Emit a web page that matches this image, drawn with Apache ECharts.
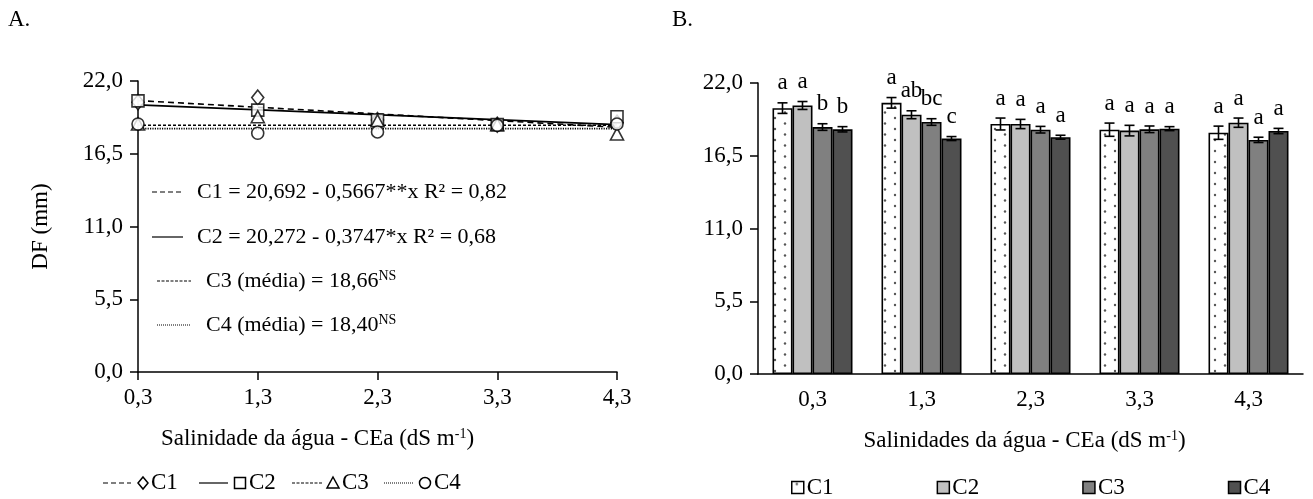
<!DOCTYPE html>
<html>
<head>
<meta charset="utf-8">
<script src="https://cdn.jsdelivr.net/npm/echarts@6/dist/echarts.min.js"></script>
<style>
html,body{margin:0;padding:0;background:#fff;}
#chart{width:1313px;height:499px;}
</style>
</head>
<body>
<div id="chart"></div>
<script>
// ---------- DATA ----------
const categories = ['0,3', '1,3', '2,3', '3,3', '4,3'];
const yTickMin = 0, yTickMax = 22, yTickStep = 5.5;

// Panel A: observed means (markers)
const c1A = [20.4, 20.75, 19.05, 18.7, 18.85];
const c2A = [20.5, 19.8, 19.05, 18.7, 19.3];
const c3A = [18.75, 19.3, 19.0, 18.7, 18.0];
const c4A = [18.75, 18.05, 18.15, 18.65, 18.75];
// Panel A: fitted lines (values at first and last salinity level)
const c1Fit = [20.52, 18.5];
const c2Fit = [20.2, 18.7];
const c3Mean = 18.66;
const c4Mean = 18.40;

// Panel B: bar means, standard errors and letters
const c1B = [20.1, 20.5, 18.9, 18.47, 18.24];
const c2B = [20.3, 19.6, 18.9, 18.4, 19.0];
const c3B = [18.67, 19.05, 18.47, 18.5, 17.7];
const c4B = [18.5, 17.8, 17.9, 18.55, 18.37];
const c1E = [0.4, 0.4, 0.45, 0.5, 0.5];
const c2E = [0.3, 0.3, 0.35, 0.4, 0.35];
const c3E = [0.25, 0.25, 0.25, 0.25, 0.2];
const c4E = [0.2, 0.15, 0.15, 0.15, 0.2];
const c1L = ['a', 'a', 'a', 'a', 'a'];
const c2L = ['a', 'ab', 'a', 'a', 'a'];
const c3L = ['b', 'bc', 'a', 'a', 'a'];
const c4L = ['b', 'c', 'a', 'a', 'a'];

// ---------- STYLE ----------
const FONT = '"Liberation Serif", "Times New Roman", serif';
const FS = 23;
const FSEQ = 22;

const pc = document.createElement('canvas');
pc.width = 20; pc.height = 11;
const pctx = pc.getContext('2d');
pctx.fillStyle = '#ffffff'; pctx.fillRect(0, 0, 20, 11);
pctx.fillStyle = '#555555';
pctx.beginPath(); pctx.arc(5, 2.5, 1.2, 0, Math.PI * 2); pctx.fill();
pctx.beginPath(); pctx.arc(15, 8, 1.2, 0, Math.PI * 2); pctx.fill();
const dotPattern = { image: pc, repeat: 'repeat' };

const barColors = [dotPattern, '#c0c0c0', '#808080', '#505050'];
const barNames = ['C1', 'C2', 'C3', 'C4'];
const barVals = [c1B, c2B, c3B, c4B];
const barErrs = [c1E, c2E, c3E, c4E];
const barLets = [c1L, c2L, c3L, c4L];
const BAR_W = 20;

const fmt = v => v.toFixed(1).replace('.', ',');
const supRich = { sup: { fontSize: 14, fontFamily: FONT, color: '#000', verticalAlign: 'top', padding: [0, 0, 10, 0] } };

function yAxisCfg(gridIndex, withName) {
  return {
    type: 'value', gridIndex: gridIndex, min: yTickMin, max: yTickMax, interval: yTickStep,
    name: withName ? 'DF (mm)' : '', nameLocation: 'middle', nameGap: 86, nameRotate: 90,
    nameTextStyle: { fontFamily: FONT, fontSize: FS, color: '#000' },
    axisLine: { show: true, lineStyle: { color: '#000', width: 1.5 } },
    axisTick: { show: true, inside: false, length: 8, lineStyle: { color: '#000', width: 1.5 } },
    axisLabel: { fontFamily: FONT, fontSize: FS, color: '#000', margin: 15, formatter: fmt },
    splitLine: { show: false }
  };
}

const series = [];
// Panel A fitted lines
const fitStyles = [
  { data: c1Fit, type: [6, 4] },
  { data: c2Fit, type: 'solid' },
  { data: [c3Mean, c3Mean], type: [3, 2] },
  { data: [c4Mean, c4Mean], type: [1.2, 1.2] }
];
fitStyles.forEach((f, i) => {
  series.push({
    name: 'fit' + (i + 1), type: 'line', xAxisIndex: 0, yAxisIndex: 0,
    data: [[0, f.data[0]], [categories.length - 1, f.data[1]]],
    showSymbol: false, symbol: 'none', silent: true, z: 2,
    lineStyle: { color: '#000', width: i === 1 ? 1.8 : 1.6, type: f.type }
  });
});
// Panel A markers
const markerDefs = [
  { data: c1A, symbol: 'diamond', size: [12, 15] },
  { data: c2A, symbol: 'rect', size: 12 },
  { data: c3A, symbol: 'triangle', size: [13, 12] },
  { data: c4A, symbol: 'circle', size: 12 }
];
markerDefs.forEach((m, i) => {
  series.push({
    name: 'obs' + (i + 1), type: 'scatter', xAxisIndex: 0, yAxisIndex: 0,
    data: m.data, symbol: m.symbol, symbolSize: m.size, z: 3,
    itemStyle: { color: '#fff', borderColor: '#000', borderWidth: 1.6 }
  });
});
// Panel B bars
barNames.forEach((n, i) => {
  series.push({
    name: n, type: 'bar', xAxisIndex: 1, yAxisIndex: 1,
    data: barVals[i], barWidth: BAR_W, barGap: '0%',
    itemStyle: { color: barColors[i], borderColor: '#000', borderWidth: 1.6 }
  });
});
// Panel B error bars + letters
barNames.forEach((n, i) => {
  series.push({
    name: n + ' err', type: 'custom', xAxisIndex: 1, yAxisIndex: 1, z: 5, silent: true,
    data: barVals[i].map((v, k) => [k, v, barErrs[i][k]]),
    renderItem: function (params, api) {
      const x = api.value(0), v = api.value(1), e = api.value(2);
      const off = (i - 1.5) * BAR_W;
      const top = api.coord([x, v + e]);
      const bot = api.coord([x, v - e]);
      const cx = top[0] + off;
      const cap = 5;
      const ls = { stroke: '#000', lineWidth: 1.6 };
      return {
        type: 'group',
        children: [
          { type: 'line', shape: { x1: cx, y1: top[1], x2: cx, y2: bot[1] }, style: ls },
          { type: 'line', shape: { x1: cx - cap, y1: top[1], x2: cx + cap, y2: top[1] }, style: ls },
          { type: 'line', shape: { x1: cx - cap, y1: bot[1], x2: cx + cap, y2: bot[1] }, style: ls },
          { type: 'text', style: { text: barLets[i][params.dataIndex], x: cx, y: top[1] - 8,
              align: 'center', verticalAlign: 'bottom', font: FS + 'px ' + FONT, fill: '#000' } }
        ]
      };
    }
  });
});

// Legend for panel A and equations drawn as graphic
const lgY = 483;
const lgA = [
  { x1: 103, x2: 131, dash: [5, 3], sym: 'diamond', sx: 143, tx: 151, t: 'C1' },
  { x1: 199, x2: 228, dash: null, sym: 'rect', sx: 240, tx: 249, t: 'C2' },
  { x1: 292, x2: 322, dash: [3, 1.5], sym: 'triangle', sx: 333, tx: 342, t: 'C3' },
  { x1: 384, x2: 414, dash: [1, 1], sym: 'circle', sx: 425, tx: 434, t: 'C4' }
];
const graphics = [];
const symStyle = { fill: '#fff', stroke: '#000', lineWidth: 1.5 };
lgA.forEach(l => {
  graphics.push({ type: 'line', shape: { x1: l.x1, y1: lgY, x2: l.x2, y2: lgY },
    style: { stroke: '#000', lineWidth: 1.2, lineDash: l.dash } });
  let s;
  if (l.sym === 'diamond') s = { type: 'polygon', shape: { points: [[l.sx, lgY - 6], [l.sx + 5, lgY], [l.sx, lgY + 6], [l.sx - 5, lgY]] } };
  else if (l.sym === 'rect') s = { type: 'rect', shape: { x: l.sx - 5.5, y: lgY - 5.5, width: 11, height: 11 } };
  else if (l.sym === 'triangle') s = { type: 'polygon', shape: { points: [[l.sx, lgY - 6], [l.sx + 6, lgY + 5], [l.sx - 6, lgY + 5]] } };
  else s = { type: 'circle', shape: { cx: l.sx, cy: lgY, r: 5.5 } };
  s.style = symStyle;
  graphics.push(s);
  graphics.push({ type: 'text', style: { text: l.t, x: l.tx, y: lgY, verticalAlign: 'middle',
    font: FS + 'px ' + FONT, fill: '#000' } });
});
const eqs = [
  { y: 192, x1: 152, x2: 183, dash: [5, 3], tx: 197, text: 'C1 = 20,692 - 0,5667**x R² = 0,82' },
  { y: 237, x1: 152, x2: 183, dash: null, tx: 197, text: 'C2 = 20,272 - 0,3747*x R² = 0,68' },
  { y: 281, x1: 157, x2: 191, dash: [3, 1.5], tx: 206, text: 'C3 (média) = 18,66{sup|NS}' },
  { y: 325, x1: 157, x2: 191, dash: [1, 1], tx: 206, text: 'C4 (média) = 18,40{sup|NS}' }
];
eqs.forEach(e => {
  graphics.push({ type: 'line', shape: { x1: e.x1, y1: e.y, x2: e.x2, y2: e.y },
    style: { stroke: '#000', lineWidth: 1.2, lineDash: e.dash } });
  graphics.push({ type: 'text', style: { text: e.text, x: e.tx, y: e.y, verticalAlign: 'middle',
    font: FSEQ + 'px ' + FONT, fill: '#000', rich: supRich } });
});
graphics.push({ type: 'text', style: { text: 'A.', x: 8, y: 20, verticalAlign: 'middle', font: FS + 'px ' + FONT, fill: '#000' } });
graphics.push({ type: 'text', style: { text: 'B.', x: 672, y: 20, verticalAlign: 'middle', font: FS + 'px ' + FONT, fill: '#000' } });

const xLabel = { fontFamily: FONT, fontSize: FS, color: '#000', margin: 14 };

const option = {
  animation: false,
  backgroundColor: '#fff',
  textStyle: { fontFamily: FONT },
  grid: [
    { left: 138, top: 81, width: 479, height: 291 },
    { left: 758, top: 83, width: 545, height: 291 }
  ],
  xAxis: [
    { type: 'category', gridIndex: 0, data: categories, boundaryGap: false,
      name: 'Salinidade da água - CEa (dS m{sup|-1})', nameLocation: 'middle', nameGap: 55,
      nameTextStyle: { fontFamily: FONT, fontSize: FS, color: '#000', rich: supRich, padding: [0, 120, 0, 0] },
      axisLine: { lineStyle: { color: '#000', width: 1.5 } },
      axisTick: { length: 8, lineStyle: { color: '#000', width: 1.5 } },
      axisLabel: xLabel, splitLine: { show: false } },
    { type: 'category', gridIndex: 1, data: categories, boundaryGap: true,
      name: 'Salinidades da água - CEa (dS m{sup|-1})', nameLocation: 'middle', nameGap: 55,
      nameTextStyle: { fontFamily: FONT, fontSize: FS, color: '#000', rich: supRich, padding: [0, 12, 0, 0] },
      axisLine: { lineStyle: { color: '#000', width: 1.5 } },
      axisTick: { length: 8, lineStyle: { color: '#000', width: 1.5 } },
      axisLabel: xLabel, splitLine: { show: false } }
  ],
  yAxis: [yAxisCfg(0, true), yAxisCfg(1, false)],
  legend: {
    data: barNames, left: 786, top: 471, itemWidth: 12, itemHeight: 12, itemGap: 103,
    icon: 'rect',
    itemStyle: { borderColor: '#000', borderWidth: 1.5 },
    textStyle: { fontFamily: FONT, fontSize: FS, color: '#000', padding: [0, 0, 0, -2] }
  },
  graphic: graphics,
  series: series
};

const chart = echarts.init(document.getElementById('chart'), null, { renderer: 'canvas' });
chart.setOption(option);
</script>
</body>
</html>
